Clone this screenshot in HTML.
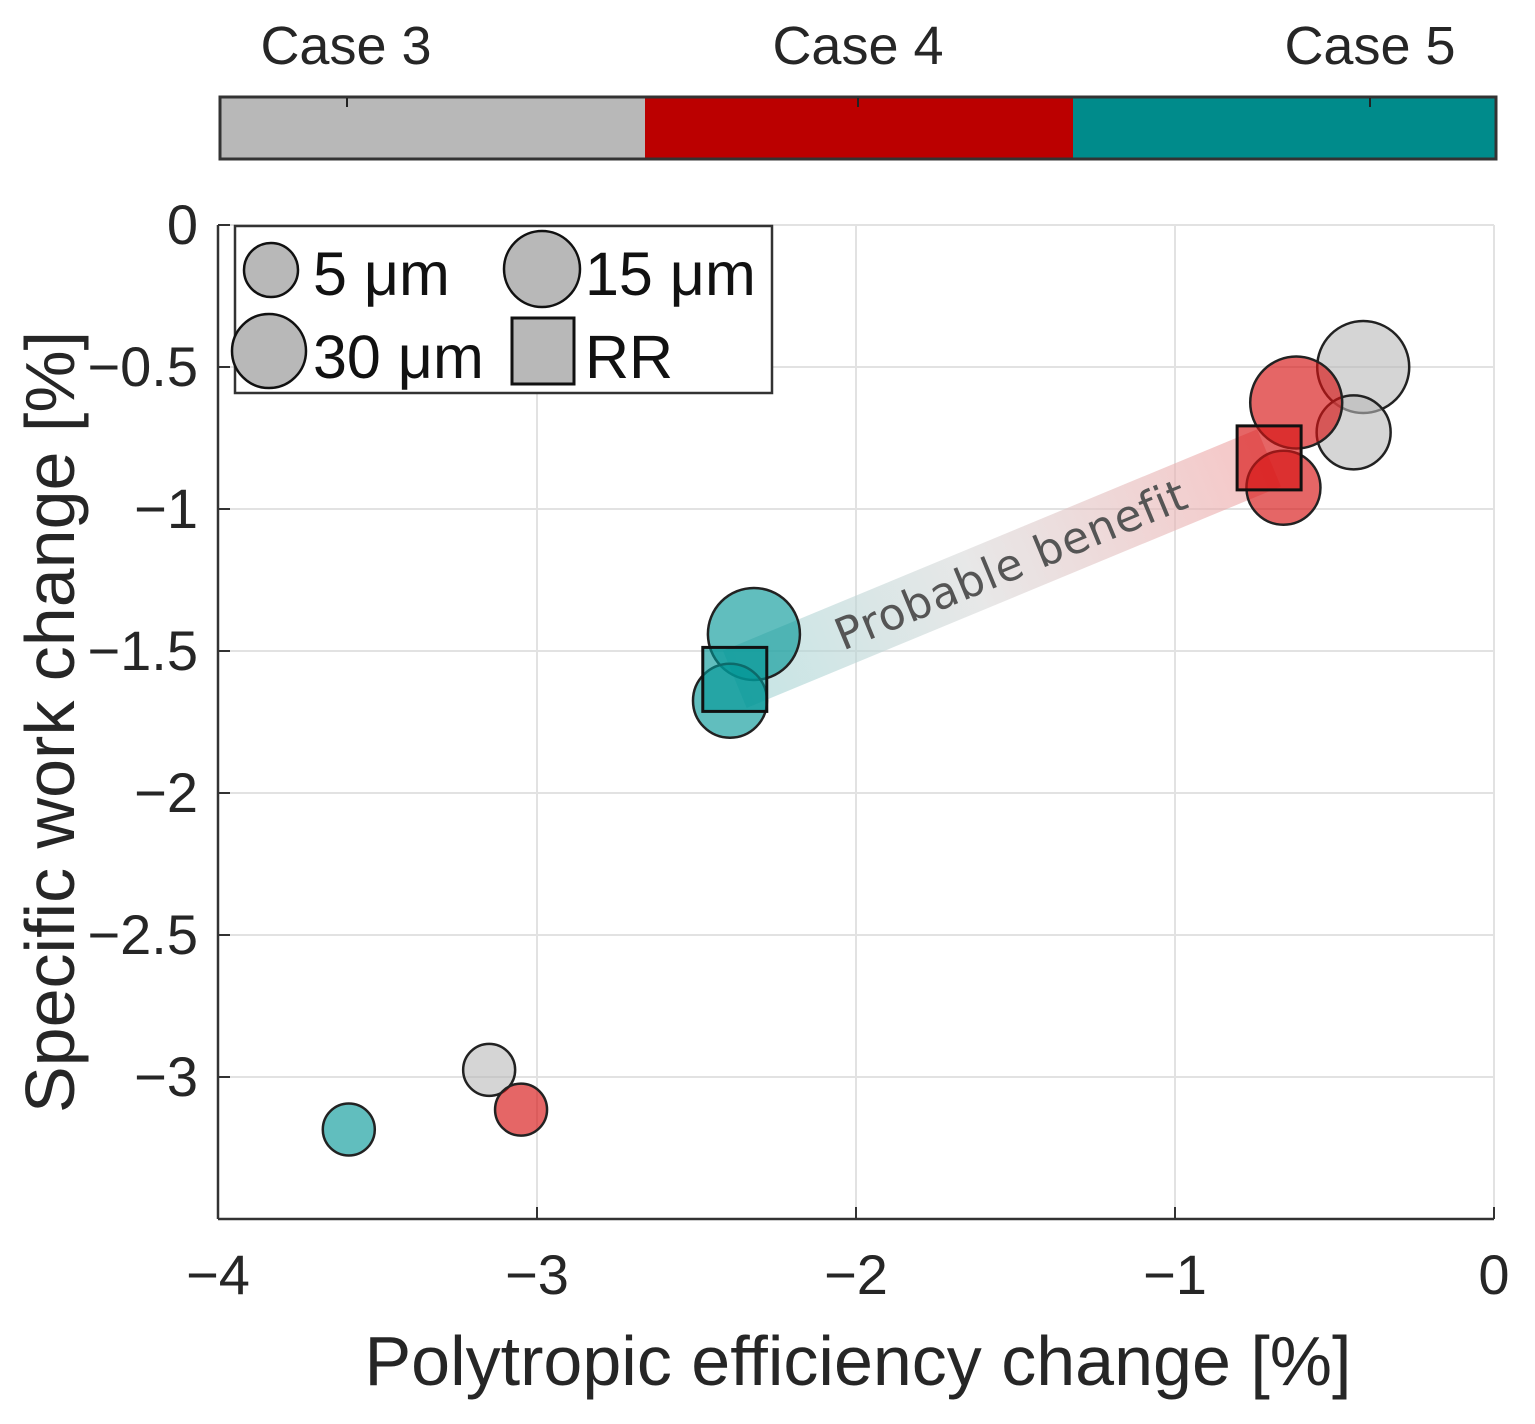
<!DOCTYPE html>
<html><head><meta charset="utf-8"><style>
body{margin:0;background:#fff;}
svg{display:block;font-family:"Liberation Sans",sans-serif;}
</style></head><body>
<svg id="chart" width="1535" height="1424" viewBox="0 0 1535 1424" xmlns="http://www.w3.org/2000/svg">
<defs>
<linearGradient id="bandGrad" x1="0" y1="0" x2="1" y2="0">
<stop offset="0" stop-color="#9fd3d3" stop-opacity="0.6"/>
<stop offset="0.45" stop-color="#d8d8d8" stop-opacity="0.6"/>
<stop offset="1" stop-color="#f0a0a0" stop-opacity="0.6"/>
</linearGradient>
</defs>
<g>
<rect x="220" y="97" width="425" height="62" fill="#b8b8b8"/>
<rect x="645" y="97" width="428" height="62" fill="#bb0000"/>
<rect x="1073" y="97" width="423" height="62" fill="#008b8b"/>
<rect x="220" y="97" width="1276" height="62" fill="none" stroke="#333" stroke-width="3"/>
<line x1="347" y1="98" x2="347" y2="107" stroke="#222" stroke-width="2"/>
<line x1="858" y1="98" x2="858" y2="107" stroke="#222" stroke-width="2"/>
<line x1="1370" y1="98" x2="1370" y2="107" stroke="#222" stroke-width="2"/>
<text x="346" y="64" font-size="54" text-anchor="middle" fill="#262626">Case 3</text>
<text x="858" y="64" font-size="54" text-anchor="middle" fill="#262626">Case 4</text>
<text x="1370" y="64" font-size="54" text-anchor="middle" fill="#262626">Case 5</text>
</g>
<g id="grid"></g>
<g id="band"></g>
<g id="marks"></g>
<g id="axes"></g>
<g>
<rect x="235" y="226" width="537" height="167" fill="#fff" stroke="#333" stroke-width="2.5"/>
<circle cx="271" cy="270" r="27" fill="#b8b8b8" stroke="#111" stroke-width="2.5"/>
<text x="313" y="295" font-size="61" fill="#111">5 μm</text>
<circle cx="542" cy="269" r="38" fill="#b8b8b8" stroke="#111" stroke-width="2.5"/>
<text x="585" y="295" font-size="61" fill="#111">15 μm</text>
<circle cx="269" cy="351" r="37" fill="#b8b8b8" stroke="#111" stroke-width="2.5"/>
<text x="313" y="378" font-size="61" fill="#111">30 μm</text>
<rect x="512" y="318" width="62" height="66" fill="#b8b8b8" stroke="#111" stroke-width="3"/>
<text x="585" y="378" font-size="61" fill="#111">RR</text>
</g>
<text x="858" y="1385" font-size="70" text-anchor="middle" fill="#262626">Polytropic efficiency change [%]</text>
<text transform="translate(74,722) rotate(-90)" font-size="70" text-anchor="middle" fill="#262626">Specific work change [%]</text>
</svg>
<script>
const xTicks = [-4, -3, -2, -1, 0];
const xTickLabels = ["\u22124", "\u22123", "\u22122", "\u22121", "0"];
const yTicks = [0, -0.5, -1, -1.5, -2, -2.5, -3];
const yTickLabels = ["0", "\u22120.5", "\u22121", "\u22121.5", "\u22122", "\u22122.5", "\u22123"];
const pointCases = ["case3","case3","case3","case4","case4","case4","case4","case5","case5","case5","case5"];
const pointSizes = ["5um","15um","30um","5um","15um","30um","RR","5um","15um","30um","RR"];
const pointX = [-3.15, -0.44, -0.41, -3.05, -0.66, -0.62, -0.705, -3.59, -2.395, -2.32, -2.38];
const pointY = [-2.975, -0.73, -0.50, -3.115, -0.925, -0.625, -0.82, -3.185, -1.675, -1.44, -1.60];
const bandFrom = [-2.38, -1.60];
const bandTo = [-0.705, -0.82];

const NS = "http://www.w3.org/2000/svg";
const X0 = 218, X1 = 1494, Y0 = 225, Y1 = 1219;
const xs = v => X0 + (v + 4) / 4 * (X1 - X0);
const ys = v => Y0 + (-v) / 3.5 * (Y1 - Y0);
function mk(tag, attrs, parent) { const e = document.createElementNS(NS, tag); for (const k in attrs) e.setAttribute(k, attrs[k]); parent.appendChild(e); return e; }
const grid = document.getElementById('grid'), axes = document.getElementById('axes'), marks = document.getElementById('marks'), band = document.getElementById('band');
xTicks.forEach((t, i) => {
  const g = mk('line', {x1: xs(t), x2: xs(t), y1: Y0, y2: Y1, stroke: '#e2e2e2', 'stroke-width': 2}, grid);
  
  
  mk('line', {x1: xs(t), x2: xs(t), y1: Y1, y2: Y1 - 12, stroke: '#333', 'stroke-width': 2}, axes);
  const tx = mk('text', {x: xs(t), y: 1294, 'font-size': 56, 'text-anchor': 'middle', fill: '#262626'}, axes);
  tx.textContent = xTickLabels[i];
  
  
});
yTicks.forEach((t, i) => {
  const g = mk('line', {x1: X0, x2: X1, y1: ys(t), y2: ys(t), stroke: '#e2e2e2', 'stroke-width': 2}, grid);
  
  
  mk('line', {x1: X0, x2: X0 + 12, y1: ys(t), y2: ys(t), stroke: '#333', 'stroke-width': 2}, axes);
  const tx = mk('text', {x: 198, y: ys(t) + 19, 'font-size': 56, 'text-anchor': 'end', fill: '#262626'}, axes);
  tx.textContent = yTickLabels[i];
  
  
});
mk('line', {x1: X0, x2: X0, y1: Y0, y2: Y1, stroke: '#333', 'stroke-width': 2.5}, axes);
mk('line', {x1: X0, x2: X1, y1: Y1, y2: Y1, stroke: '#333', 'stroke-width': 2.5}, axes);

// band
const ax = xs(bandFrom[0]), ay = ys(bandFrom[1]), bx = xs(bandTo[0]), by = ys(bandTo[1]);
const len = Math.hypot(bx - ax, by - ay), ang = Math.atan2(by - ay, bx - ax) * 180 / Math.PI;
const bg = mk('g', {transform: `translate(${ax},${ay}) rotate(${ang})`}, band);
const br = mk('rect', {x: 0, y: -31, width: len, height: 62, fill: 'url(#bandGrad)'}, bg);


const bt = mk('text', {x: len * 0.5 + 10, y: 15, 'font-size': 44, 'text-anchor': 'middle', fill: '#555', 'font-family': 'DejaVu Sans, sans-serif', 'letter-spacing': '1'}, bg);
bt.textContent = 'Probable benefit';



const fills = {case3: 'rgba(185,185,185,0.6)', case4: 'rgba(215,20,20,0.65)', case5: 'rgba(0,150,150,0.62)'};
const radii = {"5um": 26, "15um": 37, "30um": 46};
const order = [0,7,3,2,1,5,4,6,9,8,10];
order.forEach(i => {
  const cx = xs(pointX[i]), cy = ys(pointY[i]);
  let el;
  if (pointSizes[i] === 'RR') {
    el = mk('rect', {x: cx - 32, y: cy - 32, width: 64, height: 64, fill: fills[pointCases[i]], stroke: '#111', 'stroke-width': 3}, marks);
  } else {
    el = mk('circle', {cx: cx, cy: cy, r: radii[pointSizes[i]], fill: fills[pointCases[i]], stroke: '#222', 'stroke-width': 2.5}, marks);
  }
  
  
});
</script>
</body></html>
